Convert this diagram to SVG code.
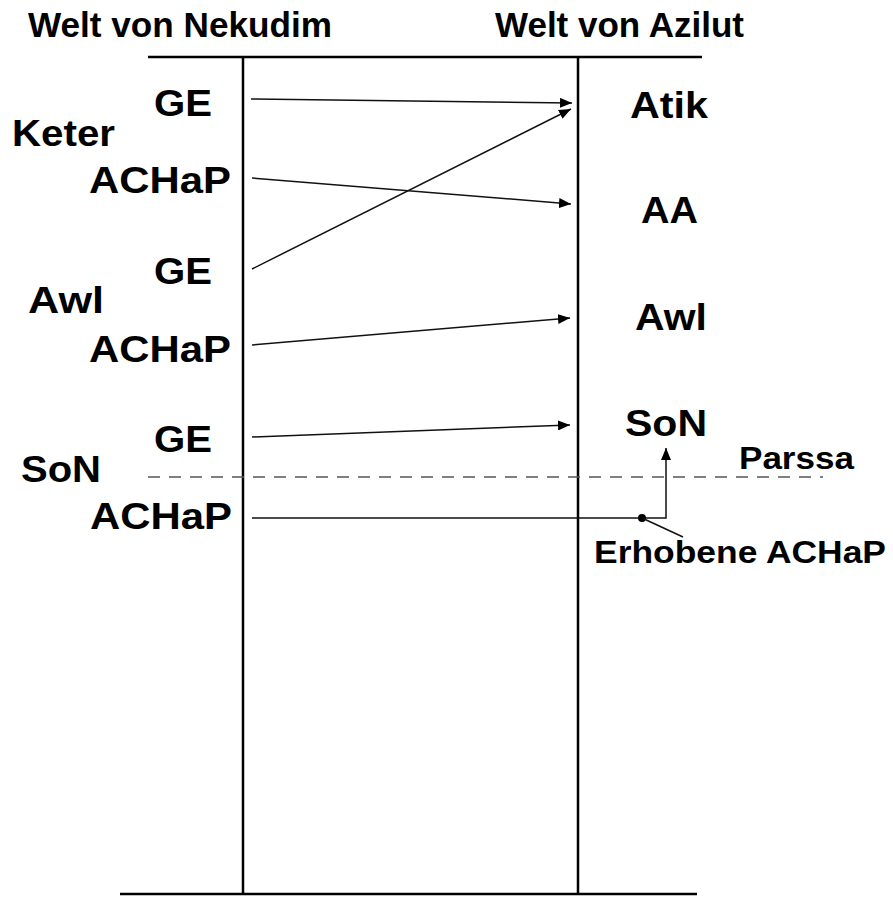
<svg xmlns="http://www.w3.org/2000/svg" width="893" height="897" viewBox="0 0 893 897">
<style>
text{font-family:"Liberation Sans",Arial,sans-serif;font-weight:bold;fill:#000;}
.t{font-size:35px;}
.l{font-size:37px;}
.s{font-size:31px;}
.frame{stroke:#000;stroke-width:2.5;fill:none;}
.c{stroke:#111;stroke-width:1.5;fill:none;}
.dash{stroke:#555;stroke-width:1.5;stroke-dasharray:12 9;fill:none;}
</style>
<defs>
<marker id="ah" viewBox="0 0 12 10" refX="12" refY="5" markerWidth="12" markerHeight="10" markerUnits="userSpaceOnUse" orient="auto">
<path d="M0,0 L12,5 L0,10 Z" fill="#000"/>
</marker>
</defs>
<rect width="893" height="897" fill="#fff"/>
<g id="frame">
<line class="frame" x1="148" y1="57" x2="702" y2="57"/>
<line class="frame" x1="243" y1="57" x2="243" y2="895"/>
<line class="frame" x1="578" y1="57" x2="578" y2="895"/>
<line class="frame" x1="120" y1="894" x2="697" y2="894"/>
<line class="dash" x1="148" y1="477" x2="823" y2="477"/>
</g>
<g id="titles">
<text class="t" x="28" y="37" textLength="304" lengthAdjust="spacingAndGlyphs">Welt von Nekudim</text>
<text class="t" x="495" y="37" textLength="249" lengthAdjust="spacingAndGlyphs">Welt von Azilut</text>
</g>
<g id="nekudim">
<g id="n-keter-ge"><text class="l" x="154" y="116" textLength="58" lengthAdjust="spacingAndGlyphs">GE</text></g>
<g id="n-keter"><text class="l" x="12" y="146" textLength="103" lengthAdjust="spacingAndGlyphs">Keter</text></g>
<g id="n-keter-achap"><text class="l" x="89" y="193" textLength="142" lengthAdjust="spacingAndGlyphs">ACHaP</text></g>
<g id="n-awl-ge"><text class="l" x="154" y="284" textLength="58" lengthAdjust="spacingAndGlyphs">GE</text></g>
<g id="n-awl"><text class="l" x="28" y="313" textLength="76" lengthAdjust="spacingAndGlyphs">Awl</text></g>
<g id="n-awl-achap"><text class="l" x="89" y="362" textLength="142" lengthAdjust="spacingAndGlyphs">ACHaP</text></g>
<g id="n-son-ge"><text class="l" x="154" y="452" textLength="58" lengthAdjust="spacingAndGlyphs">GE</text></g>
<g id="n-son"><text class="l" x="21" y="482" textLength="80" lengthAdjust="spacingAndGlyphs">SoN</text></g>
<g id="n-son-achap"><text class="l" x="90" y="529" textLength="142" lengthAdjust="spacingAndGlyphs">ACHaP</text></g>
</g>
<g id="azilut">
<g id="a-atik"><text class="l" x="630" y="118" textLength="78" lengthAdjust="spacingAndGlyphs">Atik</text></g>
<g id="a-aa"><text class="l" x="641" y="223" textLength="57" lengthAdjust="spacingAndGlyphs">AA</text></g>
<g id="a-awl"><text class="l" x="635" y="330" textLength="72" lengthAdjust="spacingAndGlyphs">Awl</text></g>
<g id="a-son"><text class="l" x="625" y="436" textLength="82" lengthAdjust="spacingAndGlyphs">SoN</text></g>
<g id="a-parssa"><text class="s" x="739" y="469" textLength="115" lengthAdjust="spacingAndGlyphs">Parssa</text></g>
<g id="a-erhobene"><text class="s" x="594" y="563" textLength="292" lengthAdjust="spacingAndGlyphs">Erhobene ACHaP</text></g>
</g>
<g id="connectors">
<line class="c" x1="251" y1="99" x2="572" y2="103" marker-end="url(#ah)"/>
<line class="c" x1="252" y1="269" x2="571" y2="109" marker-end="url(#ah)"/>
<line class="c" x1="252" y1="178" x2="571" y2="204" marker-end="url(#ah)"/>
<line class="c" x1="252" y1="345" x2="570" y2="318" marker-end="url(#ah)"/>
<line class="c" x1="252" y1="437" x2="570" y2="425" marker-end="url(#ah)"/>
<polyline class="c" points="252,518 666,518 666,448" marker-end="url(#ah)"/>
<circle cx="642" cy="518" r="4" fill="#000"/>
<line class="c" x1="642" y1="518" x2="683" y2="537"/>
</g>
</svg>
